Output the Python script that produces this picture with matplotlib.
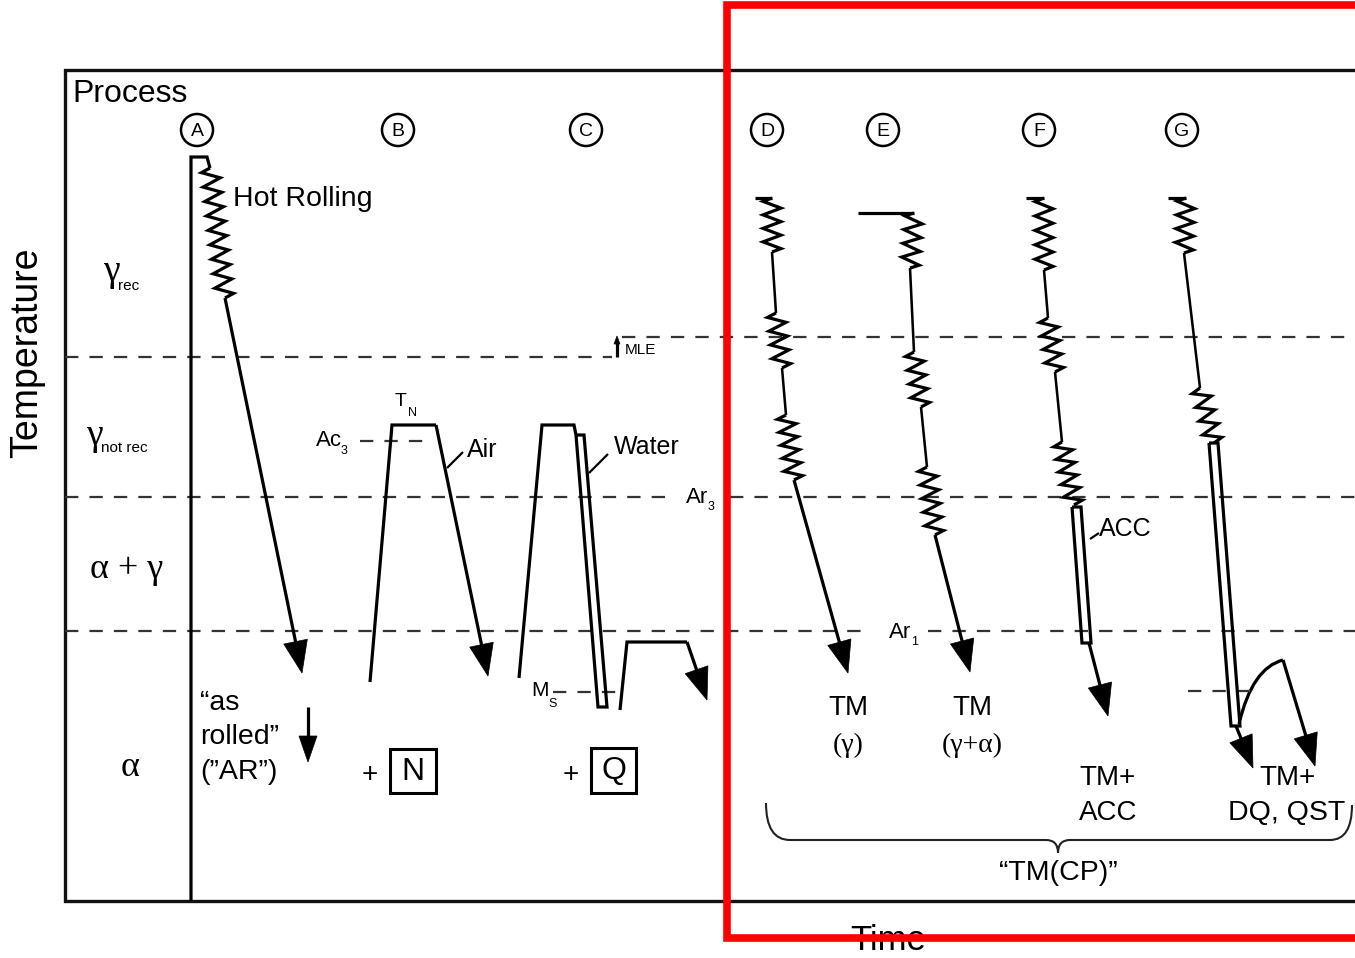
import numpy as np
import matplotlib.pyplot as plt
from matplotlib.path import Path
from matplotlib.patches import PathPatch, Circle, Rectangle, Polygon

# all positions are in picture pixels (x right, y down)
W, H = 1355, 958

# frame and temperature levels
frame_left, frame_top, frame_bottom = 65, 70, 901
levels = {"rec": 357, "Ar3": 497, "Ar1": 631, "MLE": 337}

# process letters
letters = ["A", "B", "C", "D", "E", "F", "G"]
letter_x = [197, 398, 586, 767, 883, 1039, 1182]
letter_y = 130

# A : hot rolling then air cooling
A_line = [(191, 901), (191, 157), (207, 157), (210, 168)]
A_zig = [((210, 168), (225, 298), 9)]
A_arrow = [(225, 298), (302, 673)]

# B : normalising
B_line = [(370, 682), (392, 425), (436, 425)]
B_arrow = [(436, 425), (488, 676)]

# C : quench + temper
C_line = [(519, 678), (542, 425), (574, 425), (576, 435)]
C_water = [(576, 435), (584, 435), (607, 707), (598, 707)]
C_temper = [(620, 710), (627, 642), (687, 642)]
C_arrow = [(687, 642), (707, 700)]

# D : TM (gamma)
D_line = [(755, 198), (772, 198)]
D_zig = [((772, 198), (772, 252), 4), ((776, 313), (782, 368), 4), ((786, 415), (794, 480), 5)]
D_joins = [[(772, 252), (776, 313)], [(782, 368), (786, 415)]]
D_arrow = [(794, 480), (848, 673)]

# E : TM (gamma + alpha)
E_line = [(858, 213), (914, 213)]
E_zig = [((914, 213), (910, 268), 4), ((914, 352), (921, 407), 4), ((927, 467), (935, 535), 5)]
E_joins = [[(910, 268), (914, 352)], [(921, 407), (927, 467)]]
E_arrow = [(935, 535), (970, 672)]

# F : TM + ACC
F_line = [(1026, 198), (1044, 198)]
F_zig = [((1044, 198), (1044, 270), 5), ((1048, 318), (1055, 372), 4), ((1062, 442), (1074, 505), 5)]
F_joins = [[(1044, 270), (1048, 318)], [(1055, 372), (1062, 442)]]
F_acc = [(1072, 507), (1081, 507), (1091, 643), (1082, 643)]
F_arrow = [(1089, 643), (1108, 716)]

# G : TM + DQ, QST
G_line = [(1168, 198), (1186, 198)]
G_zig = [((1186, 198), (1184, 253), 4), ((1200, 388), (1214, 443), 4)]
G_joins = [[(1184, 253), (1200, 388)]]
G_dq = [(1209, 443), (1218, 443), (1240, 726), (1231, 726)]
G_arrow1 = [(1236, 726), (1253, 768)]
G_curve = [(1239, 724), (1252, 668), (1283, 660)]
G_arrow2 = [(1283, 660), (1315, 766)]

LW = 2.3
TXT = "Liberation Sans"
SERIF = "Liberation Serif"


def zigzag(p0, p1, n, amp=9):
    p0 = np.array(p0, float)
    p1 = np.array(p1, float)
    d = p1 - p0
    L = np.hypot(*d)
    nrm = np.array([-d[1], d[0]]) / L
    m = 2 * n
    pts = [p0]
    for k in range(m):
        pts.append(p0 + d * (k + 0.5) / m + nrm * amp * (1 if k % 2 == 0 else -1))
    pts.append(p1)
    return np.array(pts)


def poly(ax, pts, closed=False, lw=LW):
    pts = np.array(pts, float)
    if closed:
        pts = np.vstack([pts, pts[:1]])
    ax.plot(pts[:, 0], pts[:, 1], color="black", lw=lw,
            solid_joinstyle="miter", solid_capstyle="butt")


def arrow(ax, p0, p1, hl=32, hw=12):
    p0 = np.array(p0, float)
    p1 = np.array(p1, float)
    d = p1 - p0
    u = d / np.hypot(*d)
    nrm = np.array([-u[1], u[0]])
    base = p1 - u * hl
    poly(ax, [p0, base + u * 2])
    ax.add_patch(Polygon([p1, base + nrm * hw, base - nrm * hw], closed=True,
                         fc="black", ec="black", lw=0.5))


def dashed(ax, x0, x1, y):
    ax.plot([x0, x1], [y, y], color="#333333", lw=1.6, dashes=(6, 5))


def sub_label(ax, x, y, main, sub, dx, size=15, subsize=9):
    ax.text(x, y, main, fontsize=size, family=TXT, ha="left", va="center")
    ax.text(x + dx, y + 10, sub, fontsize=subsize, family=TXT,
            ha="left", va="center")


fig = plt.figure(figsize=(W / 100, H / 100), dpi=100)
ax = fig.add_axes([0, 0, 1, 1])
ax.set_xlim(0, W)
ax.set_ylim(H, 0)
ax.axis("off")

# frame
ax.plot([W, frame_left, frame_left, W], [frame_top, frame_top, frame_bottom, frame_bottom],
        color="#111111", lw=2.4, solid_joinstyle="miter")

# temperature level lines
dashed(ax, frame_left, 612, levels["rec"])
arrow(ax, (617, levels["rec"]), (617, 336), hl=8, hw=3)
dashed(ax, 622, W, levels["MLE"])
ax.text(625, 350, "MLE", fontsize=11, family=TXT, ha="left", va="center")
dashed(ax, frame_left, 670, levels["Ar3"])
dashed(ax, 730, W, levels["Ar3"])
sub_label(ax, 686, 497, "Ar", "3", 22, size=16)
dashed(ax, frame_left, 868, levels["Ar1"])
dashed(ax, 928, W, levels["Ar1"])
sub_label(ax, 889, 632, "Ar", "1", 22, size=16)

# other dashed markers
dashed(ax, 360, 424, 441)
sub_label(ax, 316, 441, "Ac", "3", 25, size=16)
ax.text(395, 402, "T", fontsize=14, family=TXT, ha="left", va="center")
ax.text(408, 413, "N", fontsize=9, family=TXT, ha="left", va="center")
dashed(ax, 553, 617, 692)
ax.text(531, 691, "M", fontsize=15, family=TXT, ha="left", va="center")
ax.text(548, 704, "S", fontsize=9, family=TXT, ha="left", va="center")
dashed(ax, 1188, 1250, 691)

# phase field labels
ax.text(103, 272, "γ", fontsize=27, family=SERIF, ha="left", va="center")
ax.text(118, 286, "rec", fontsize=11, family=TXT, ha="left", va="center")
ax.text(86, 436, "γ", fontsize=27, family=SERIF, ha="left", va="center")
ax.text(101, 448, "not rec", fontsize=11, family=TXT, ha="left", va="center")
ax.text(127, 570, "α + γ", fontsize=26, family=SERIF, ha="center", va="center")
ax.text(130, 768, "α", fontsize=26, family=SERIF, ha="center", va="center")

ax.text(72, 94, "Process", fontsize=23, family=TXT, ha="left", va="center")
ax.text(27, 353, "Temperature", fontsize=27, family=TXT, rotation=90,
        ha="center", va="center")

# circled letters
for lab, lx in zip(letters, letter_x):
    ax.add_patch(Circle((lx, letter_y), 16, fill=False, ec="black", lw=1.8))
    ax.text(lx, letter_y + 1, lab, fontsize=14, family=TXT, ha="center", va="center")

# process A
poly(ax, A_line)
for p0, p1, n in A_zig:
    poly(ax, zigzag(p0, p1, n))
arrow(ax, *A_arrow)
ax.text(233, 199, "Hot Rolling", fontsize=20.5, family=TXT, ha="left", va="center")
ax.text(200, 703, "“as", fontsize=20.5, family=TXT, ha="left", va="center")
ax.text(200, 737, "rolled”", fontsize=20.5, family=TXT, ha="left", va="center")
ax.text(200, 772, "(”AR”)", fontsize=20.5, family=TXT, ha="left", va="center")
arrow(ax, (308, 707), (308, 762), hl=26, hw=9)

# process B
poly(ax, B_line)
arrow(ax, *B_arrow)
poly(ax, [(447, 468), (463, 452)], lw=1.6)
ax.text(467, 450, "Air", fontsize=18, family=TXT, ha="left", va="center")
ax.text(370, 775, "+", fontsize=20, family=TXT, ha="center", va="center")
ax.add_patch(Rectangle((390, 749), 46, 44, fill=False, ec="black", lw=2.2))
ax.text(413, 772, "N", fontsize=23, family=TXT, ha="center", va="center")

# process C
poly(ax, C_line)
poly(ax, C_water, closed=True)
poly(ax, C_temper)
arrow(ax, *C_arrow)
poly(ax, [(589, 473), (608, 454)], lw=1.6)
ax.text(614, 447, "Water", fontsize=18, family=TXT, ha="left", va="center")
ax.text(571, 775, "+", fontsize=20, family=TXT, ha="center", va="center")
ax.add_patch(Rectangle((591, 748), 45, 45, fill=False, ec="black", lw=2.2))
ax.text(613.5, 771, "Q", fontsize=23, family=TXT, ha="center", va="center")

# processes D - G
for line, zigs, joins, arr in [(D_line, D_zig, D_joins, D_arrow),
                               (E_line, E_zig, E_joins, E_arrow),
                               (F_line, F_zig, F_joins, F_arrow),
                               (G_line, G_zig, G_joins, G_arrow1)]:
    poly(ax, line)
    for p0, p1, n in zigs:
        poly(ax, zigzag(p0, p1, n))
    for j in joins:
        poly(ax, j, lw=LW * 0.8)
    arrow(ax, *arr)

poly(ax, F_acc, closed=True)
poly(ax, [(1090, 539), (1099, 533)], lw=1.6)
ax.text(1099, 529, "ACC", fontsize=18, family=TXT, ha="left", va="center")

poly(ax, G_dq, closed=True)
gc = Path(G_curve, [Path.MOVETO, Path.CURVE3, Path.CURVE3])
ax.add_patch(PathPatch(gc, fill=False, ec="black", lw=LW))
arrow(ax, *G_arrow2)

# bottom labels
ax.text(848, 708, "TM", fontsize=20, family=TXT, ha="center", va="center")
ax.text(848, 745, "(γ)", fontsize=20, family=SERIF, ha="center", va="center")
ax.text(972, 708, "TM", fontsize=20, family=TXT, ha="center", va="center")
ax.text(972, 745, "(γ+α)", fontsize=20, family=SERIF, ha="center", va="center")
ax.text(1108, 778, "TM+", fontsize=20, family=TXT, ha="center", va="center")
ax.text(1108, 813, "ACC", fontsize=20, family=TXT, ha="center", va="center")
ax.text(1288, 778, "TM+", fontsize=20, family=TXT, ha="center", va="center")
ax.text(1287, 813, "DQ, QST", fontsize=20.5, family=TXT, ha="center", va="center")

brace_pts = [(766, 803), (766, 840), (790, 840), (1046, 840), (1058, 840), (1058, 853),
             (1058, 840), (1070, 840), (1330, 840), (1352, 840), (1352, 805)]
brace_codes = [Path.MOVETO, Path.CURVE3, Path.CURVE3, Path.LINETO, Path.CURVE3, Path.CURVE3,
               Path.CURVE3, Path.CURVE3, Path.LINETO, Path.CURVE3, Path.CURVE3]
ax.add_patch(PathPatch(Path(brace_pts, brace_codes), fill=False, ec="#222222", lw=1.5))
ax.text(1058, 873, "“TM(CP)”", fontsize=20.5, family=TXT, ha="center", va="center")

ax.text(888, 940, "Time", fontsize=25, family=TXT, ha="center", va="center")

# red highlight box
ax.plot([W + 10, 727, 727, W + 10], [5, 5, 938, 938], color="#ff0000", lw=5.5,
        solid_joinstyle="miter", zorder=10)

fig.savefig("out.png", dpi=100)
